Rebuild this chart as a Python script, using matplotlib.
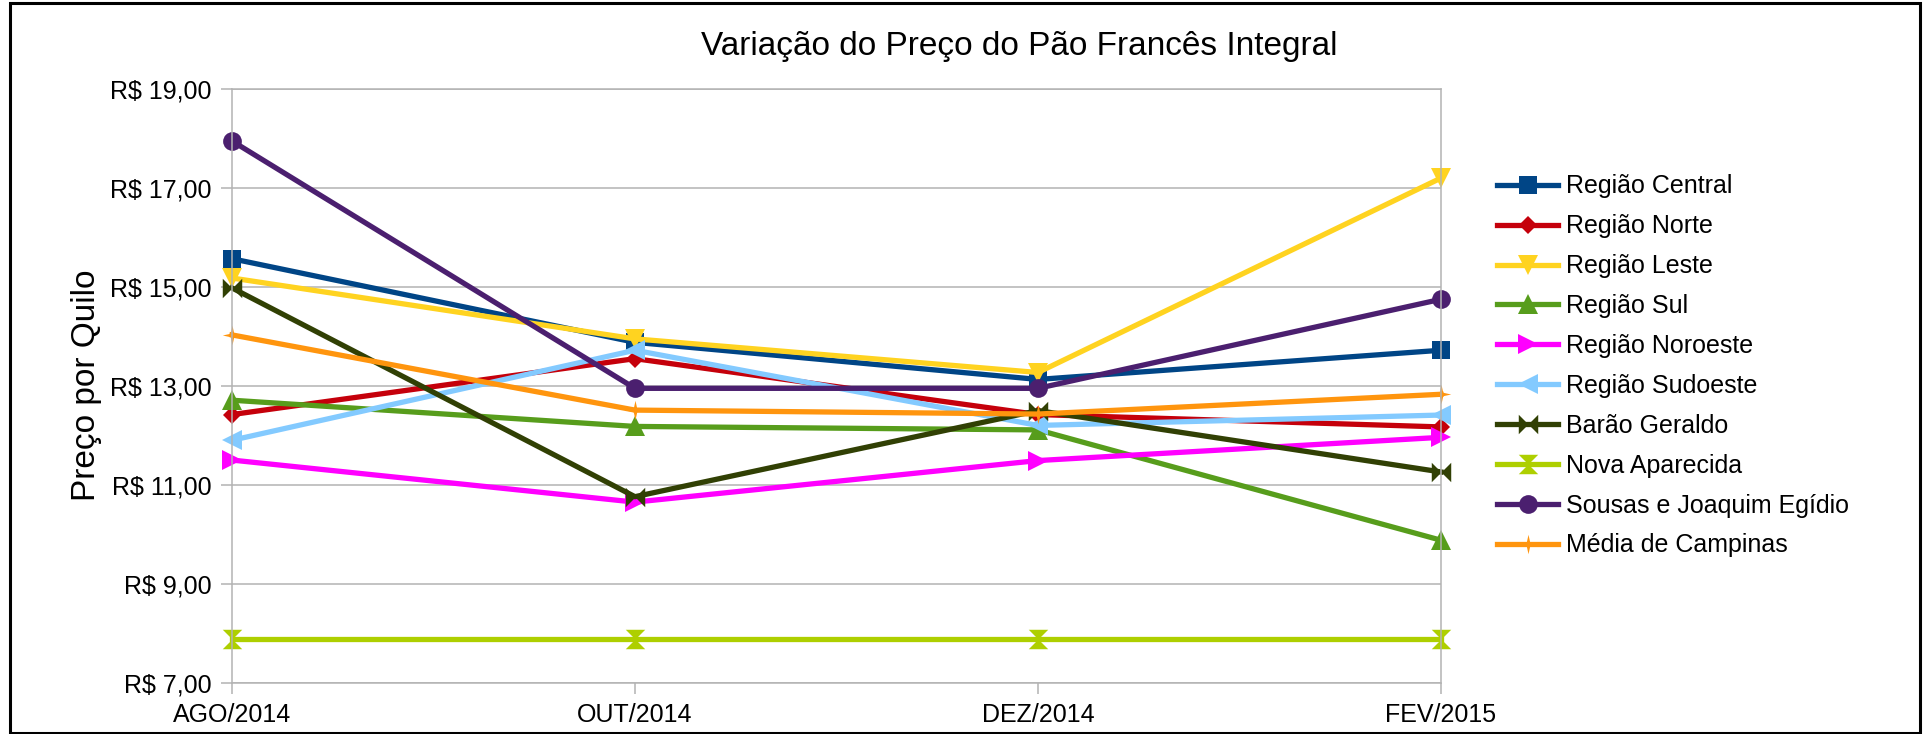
import matplotlib.pyplot as plt
from matplotlib.patches import Rectangle
from matplotlib.ticker import FuncFormatter

plt.rcParams['font.family'] = ['Liberation Sans', 'DejaVu Sans']

meses = ['AGO/2014', 'OUT/2014', 'DEZ/2014', 'FEV/2015']

regiao_central = [15.57, 13.88, 13.13, 13.72]
regiao_norte = [12.42, 13.55, 12.42, 12.17]
regiao_leste = [15.18, 13.95, 13.27, 17.20]
regiao_sul = [12.71, 12.18, 12.11, 9.88]
regiao_noroeste = [11.50, 10.65, 11.49, 11.96]
regiao_sudoeste = [11.90, 13.72, 12.20, 12.41]
barao_geraldo = [14.98, 10.76, 12.50, 11.26]
nova_aparecida = [7.89, 7.89, 7.89, 7.89]
sousas_joaquim = [17.95, 12.95, 12.95, 14.75]
media_campinas = [14.03, 12.51, 12.43, 12.83]

# marcadores do LibreOffice que o matplotlib nao tem
gravata = [(-1, -1), (-1, 1), (1, -1), (1, 1), (-1, -1)]
ampulheta = [(-1, 1), (1, 1), (-1, -1), (1, -1), (-1, 1)]
estrela = [(0, 1), (0.18, 0.18), (1, 0), (0.18, -0.18), (0, -1),
           (-0.18, -0.18), (-1, 0), (-0.18, 0.18), (0, 1)]

series = [
    ('Região Central', regiao_central, '#004586', 's', 13.5),
    ('Região Norte', regiao_norte, '#c5000b', 'D', 9.5),
    ('Região Leste', regiao_leste, '#ffd320', 'v', 14),
    ('Região Sul', regiao_sul, '#579d1c', '^', 14),
    ('Região Noroeste', regiao_noroeste, '#ff00ff', '>', 14),
    ('Região Sudoeste', regiao_sudoeste, '#83caff', '<', 14),
    ('Barão Geraldo', barao_geraldo, '#314004', gravata, 14),
    ('Nova Aparecida', nova_aparecida, '#aecf00', ampulheta, 14),
    ('Sousas e Joaquim Egídio', sousas_joaquim, '#4b1f6f', 'o', 13.5),
    ('Média de Campinas', media_campinas, '#ff950e', estrela, 14),
]


def formata_real(valor, pos):
    return 'R$ ' + ('%.2f' % valor).replace('.', ',')


def desenha_grafico():
    fig = plt.figure(figsize=(19.3, 7.34), dpi=100)
    ax = fig.add_axes([0.1202, 0.0699, 0.6264, 0.8088])

    x = list(range(len(meses)))
    for nome, valores, cor, marcador, tamanho in series:
        ax.plot(x, valores, color=cor, linewidth=3.8, marker=marcador,
                markersize=tamanho, markeredgewidth=0, label=nome,
                clip_on=False)

    ax.set_xlim(0, 3)
    ax.set_ylim(7, 19)
    ax.set_xticks(x)
    ax.set_xticklabels(meses)
    ax.set_yticks([7, 9, 11, 13, 15, 17, 19])
    ax.yaxis.set_major_formatter(FuncFormatter(formata_real))

    ax.grid(axis='y', color='#b3b3b3', linewidth=1.1)
    ax.set_axisbelow(True)
    for lado in ax.spines.values():
        lado.set_color('#b3b3b3')
        lado.set_linewidth(1.1)
    ax.tick_params(direction='out', length=8, width=1.1, color='#b3b3b3',
                   labelsize=18, pad=6.5)

    fig.text(1019 / 1930, 1 - 55 / 734, 'Variação do Preço do Pão Francês Integral',
             fontsize=24, ha='center', va='baseline')
    fig.text(86 / 1930, 1 - 385 / 734, 'Preço por Quilo', fontsize=24,
             rotation=90, ha='center', va='center')

    ax.legend(loc='upper left', bbox_to_anchor=(1497 / 1930, 1 - 174.5 / 734),
              bbox_transform=fig.transFigure, frameon=False, fontsize=18,
              borderpad=0, borderaxespad=0, handlelength=2.44,
              handletextpad=0.32, labelspacing=0.635)

    fig.patches.append(Rectangle((10 / 1930, 1.5 / 734), 1910 / 1930, 730 / 734,
                                 transform=fig.transFigure, fill=False,
                                 edgecolor='black', linewidth=2.2))

    fig.savefig('out.png', dpi=100)


if __name__ == '__main__':
    desenha_grafico()
